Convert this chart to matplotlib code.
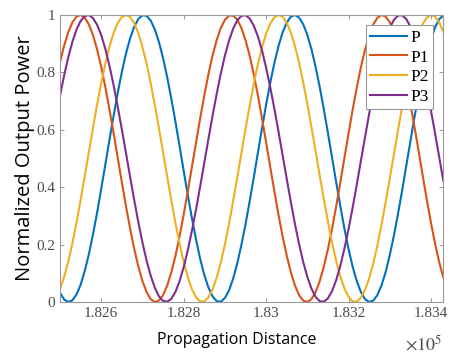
import numpy as np
import matplotlib
matplotlib.use('Agg')
import matplotlib.pyplot as plt
from matplotlib.ticker import FuncFormatter

plt.rcParams['mathtext.fontset'] = 'stix'

# propagation distance samples (every 10 units from 1.825e5 to 1.8343e5)
distance = np.arange(182500, 183431, 10)

# normalized output power, in thousandths
p_k = [33,9,0,6,26,60,108,166,235,311,394,479,565,648,728,801,865,918,959,986,999,997,981,950,906,850,784,709,629,544,458,373,293,218,151,95,51,20,3,1,14,40,81,134,198,270,350,433,519,604,687,763,832,891,939,973,994,1000,991,968,931,881,820,750,672,589,504,418,335,256,185,123,73,35,10,0,5,24,58,104,163,231,307,388,474,559,644,723,797,861,915,957,985,999]
p1_k = [835,893,940,974,994,1000,991,967,930,880,819,749,671,589,503,418,335,257,186,124,73,35,10,0,5,24,57,103,160,228,304,385,470,555,639,719,793,858,912,954,983,998,998,984,955,913,859,794,721,641,557,471,387,305,229,162,104,58,24,5,0,10,34,72,123,184,255,333,416,502,587,670,747,818,879,929,967,990,1000,995,975,941,894,836,768,692,610,526,440,356,276,203,139,85]
p2_k = [45,87,140,204,276,355,438,522,606,687,763,831,889,937,972,993,1000,993,972,937,889,831,763,687,606,522,438,355,276,204,140,87,45,17,2,2,16,43,84,137,200,272,351,433,518,602,683,759,828,887,935,970,992,1000,994,973,939,892,834,766,691,610,526,442,359,280,207,143,89,47,18,2,1,15,42,82,134,197,269,347,429,514,598,679,755,824,884,932,969,991,1000,994,974,941]
p3_k = [718,789,852,906,949,979,996,1000,989,966,930,882,823,756,681,602,520,437,356,279,208,145,92,50,20,4,1,11,35,72,121,180,248,322,402,484,567,648,724,795,858,910,952,981,997,999,988,963,926,877,817,749,674,595,512,430,349,272,202,140,88,47,18,3,1,13,38,76,126,186,254,329,409,492,574,655,731,801,863,915,955,983,998,999,986,960,922,872,811,743,667,587,505,422]

labels = ['P', 'P1', 'P2', 'P3']
colors = ['#0072BD', '#D95319', '#EDB120', '#7E2F8E']

fig = plt.figure(figsize=(4.51, 3.57), dpi=100)
ax = fig.add_axes([0.133, 0.154, 0.850, 0.804])
for y, lab, c in zip([p_k, p1_k, p2_k, p3_k], labels, colors):
    ax.plot(distance, np.array(y) / 1000, color=c, lw=1.5, label=lab)

ax.set_xlim(182500, 183430)
ax.set_ylim(0, 1)
ax.set_xticks([182600, 182800, 183000, 183200, 183400])
ax.xaxis.set_major_formatter(FuncFormatter(lambda v, p: ('%.3f' % (v / 1e5)).rstrip('0')))
ax.set_yticks([0, 0.2, 0.4, 0.6, 0.8, 1])
ax.yaxis.set_major_formatter(FuncFormatter(lambda v, p: ('%.1f' % v).rstrip('0').rstrip('.') if v else '0'))
ax.tick_params(direction='in', top=True, right=True, length=3, width=0.6, color='#888888',
               labelcolor='#4a4a4a', labelsize=11)
for t in ax.get_xticklabels() + ax.get_yticklabels():
    t.set_family('Liberation Serif')
for s in ax.spines.values():
    s.set_color('#999999')
    s.set_linewidth(0.8)

ax.set_ylabel('Normalized Output Power', family='Open Sans', fontsize=14.5, labelpad=1)
fig.text(237 / 451, 1 - 340 / 357, 'Propagation Distance', family='Open Sans', fontsize=11.5,
         ha='center', va='center')
fig.text(424 / 451, 1 - 344 / 357, r'$\times10^{5}$', fontsize=13, color='#4a4a4a',
         ha='center', va='center')

leg = ax.legend(loc='upper right', prop={'family': 'Liberation Serif', 'size': 12.5},
                fancybox=False, framealpha=1, edgecolor='#999999', borderpad=0.25,
                handlelength=2.1, handletextpad=0.2, labelspacing=0.2,
                borderaxespad=0.6)
leg.get_frame().set_linewidth(0.8)

fig.savefig('out.png', dpi=100)
